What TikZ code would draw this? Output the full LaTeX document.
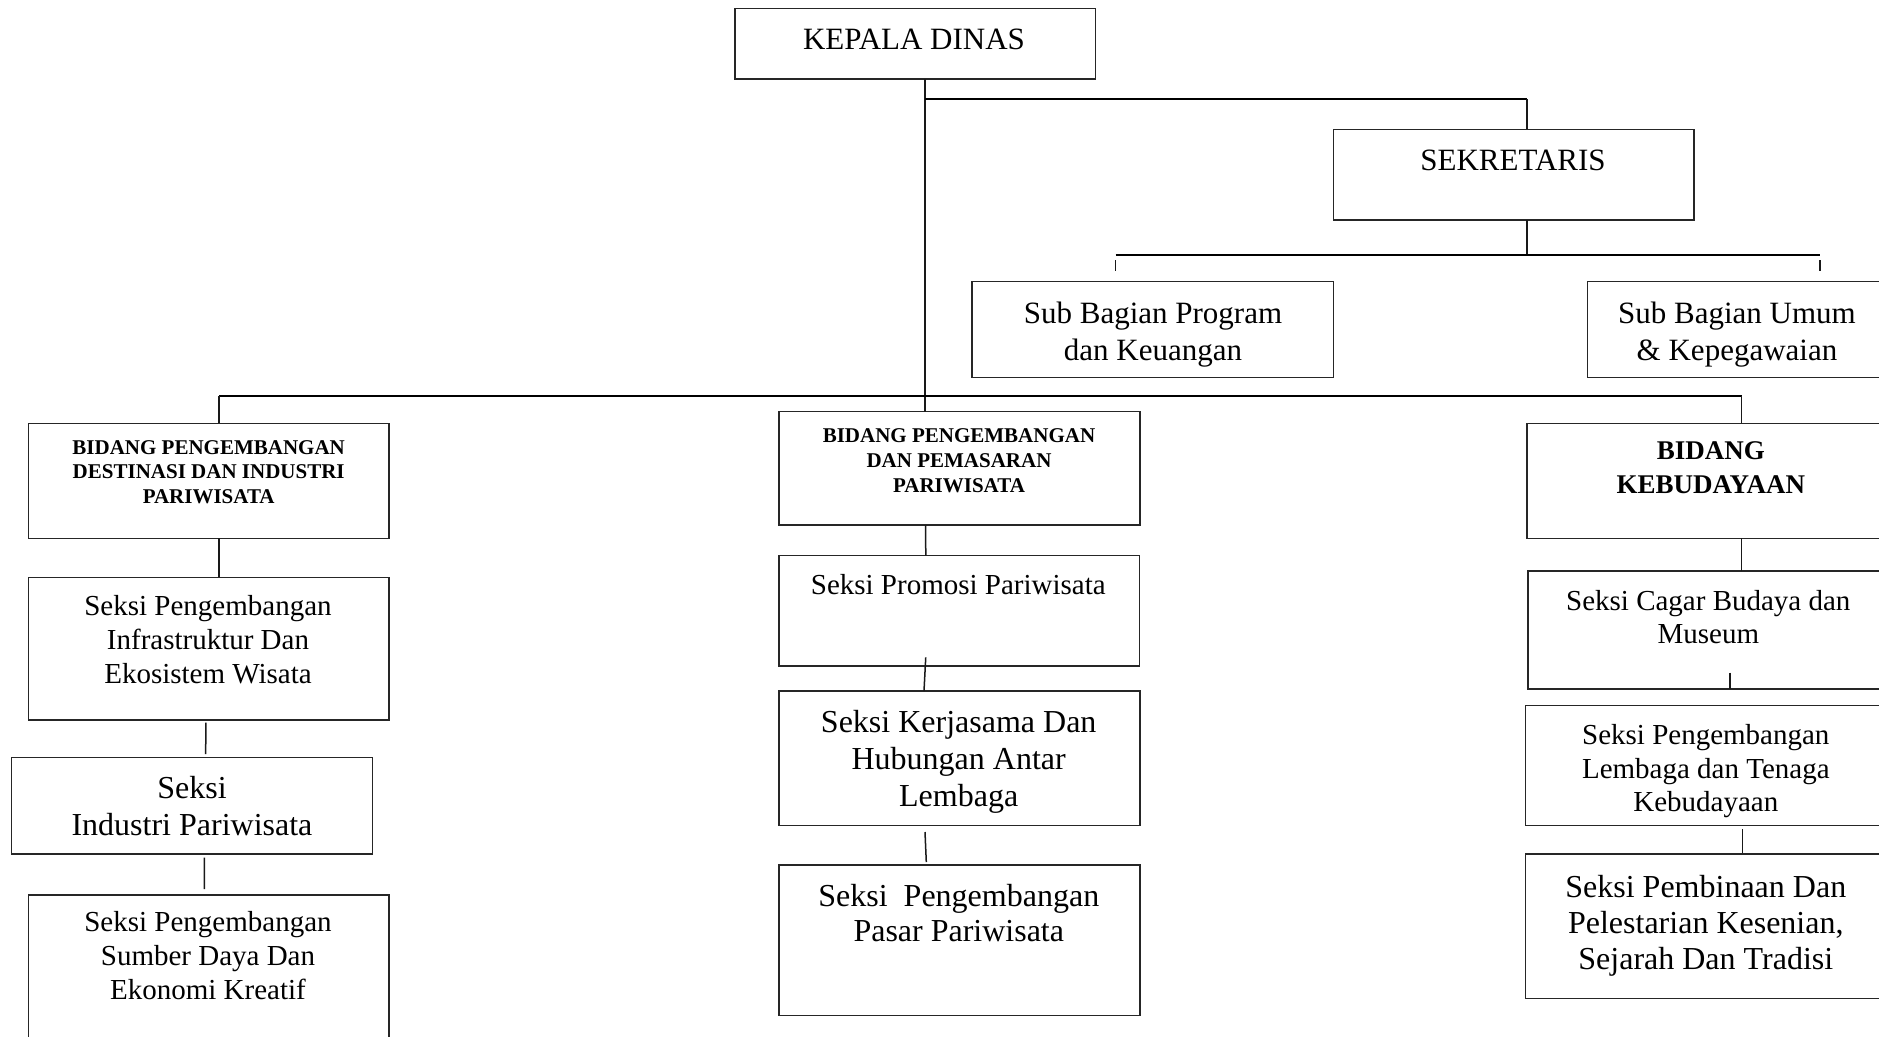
\documentclass[tikz,border=0pt]{standalone}
\usepackage{fontspec}
\setmainfont{Liberation Serif}
\usetikzlibrary{calc}
\tikzset{
  orgframe/.style={draw=black!85, line width=1.3pt, inner sep=0pt, outer sep=0pt, rectangle},
  orglabel/.style={inner sep=0pt, outer sep=0pt, align=center, anchor=north, text=black},
  conn/.style={draw=black!90, line width=1.5pt},
  bar/.style={draw=black, line width=2.4pt},
}
\newcommand\orgbox[5]{\node[orgframe, minimum width={(#4-#2)*1pt}, minimum height={(#5-#3)*1pt}] (#1) at ({(#2+#4)/2},{(#3+#5)/2}) {};}
\newcommand\orgtext[6]{\node[orglabel, font=\fontsize{#4}{#5}\selectfont] (#1) at (#2,{#3-0.75*#4}) {\rule{0pt}{0.75em}#6};}
\begin{document}
\begin{tikzpicture}[x=1pt,y=-1pt]
\fill[white] (0,0) rectangle (1879,1036);
\clip (0,0) rectangle (1879,1036);
% boxes
\orgbox{kepala}{735}{8.3}{1095.7}{79}
\orgbox{sek}{1333.5}{129.3}{1694}{220}
\orgbox{subprog}{972}{281.7}{1333.5}{377.7}
\orgbox{subumum}{1587.4}{281.7}{1887}{377.7}
\orgbox{bidA}{28.3}{423.3}{389}{538.3}
\orgbox{bidB}{779}{411.7}{1140}{525}
\orgbox{bidC}{1527}{423.3}{1894}{538.3}
\orgbox{infra}{28.3}{577.3}{389}{720}
\orgbox{indus}{11.7}{757.7}{372.7}{854}
\orgbox{sumber}{28.3}{895}{389}{1060}
\orgbox{promo}{779}{555.7}{1139.5}{666}
\orgbox{kerja}{779}{691}{1140}{825.7}
\orgbox{pasar}{779}{865}{1140}{1015.7}
\orgbox{cagar}{1528}{571}{1888}{689}
\orgbox{lembaga}{1525.7}{705.7}{1886}{825.7}
\orgbox{pembina}{1525.7}{854}{1886}{998.3}
% texts
\orgtext{kepalaT}{914}{49.3}{31}{35}{KEPALA DINAS}
\orgtext{sekT}{1513}{170}{31}{35}{SEKRETARIS}
\orgtext{subprogT}{1153}{323}{31}{37}{Sub Bagian Program\\dan Keuangan}
\orgtext{subumumT}{1737}{323}{31}{37}{Sub Bagian Umum\\\& Kepegawaian}
\orgtext{bidAT}{208.7}{454}{21}{24.7}{\bfseries BIDANG PENGEMBANGAN\\\bfseries DESTINASI DAN INDUSTRI\\\bfseries PARIWISATA}
\orgtext{bidBT}{959}{442.3}{21}{25.2}{\bfseries BIDANG PENGEMBANGAN\\\bfseries DAN PEMASARAN\\\bfseries PARIWISATA}
\orgtext{bidCT}{1710.8}{459.3}{27}{34}{\bfseries BIDANG\\\bfseries KEBUDAYAAN}
\orgtext{infraT}{208}{615}{29}{34}{Seksi Pengembangan\\Infrastruktur Dan\\Ekosistem Wisata}
\orgtext{indusT}{192}{798.3}{32}{36.7}{Seksi\\Industri Pariwisata}
\orgtext{sumberT}{208}{931.7}{29}{34}{Seksi Pengembangan\\Sumber Daya Dan\\Ekonomi Kreatif}
\orgtext{promoT}{958.3}{594}{29}{34}{Seksi Promosi Pariwisata}
\orgtext{kerjaT}{958.7}{732.5}{32}{37}{Seksi Kerjasama Dan\\Hubungan Antar\\Lembaga}
\orgtext{pasarT}{958.8}{906.7}{32}{35}{Seksi\ \ Pengembangan\\Pasar Pariwisata}
\orgtext{cagarT}{1708.3}{610}{29}{33}{Seksi Cagar Budaya dan\\Museum}
\orgtext{lembagaT}{1705.8}{744.5}{29}{33.7}{Seksi Pengembangan\\Lembaga dan Tenaga\\Kebudayaan}
\orgtext{pembinaT}{1705.8}{897.5}{32}{36}{Seksi Pembinaan Dan\\Pelestarian Kesenian,\\Sejarah Dan Tradisi}
% bus coordinates
\coordinate (busK) at (925,99);
\coordinate (sekBus) at (1526.8,99);
\coordinate (subBus) at (1526.8,255);
\coordinate (tickL) at (1115.5,255);
\coordinate (tickR) at (1820,255);
\coordinate (bidBus) at (925,395.7);
\coordinate (bidL) at (219,395.7);
\coordinate (bidR) at (1741.7,395.7);
% connectors
\draw[conn] (kepala.south -| busK) -- (bidB.north -| busK);
\draw[bar] (busK) -- (sekBus);
\draw[conn] (sekBus) -- (sek.north -| sekBus);
\draw[conn] (sek.south -| subBus) -- (subBus);
\draw[bar] (tickL) -- (tickR);
\draw[conn] ($(tickL)+(0,5)$) -- ($(subprog.north -| tickL)+(0,-11)$);
\draw[conn] ($(tickR)+(0,5)$) -- ($(subumum.north -| tickR)+(0,-11)$);
\draw[bar] (bidL) -- (bidR);
\draw[conn] (bidL) -- (bidA.north -| bidL);
\draw[conn] (bidR) -- (bidC.north -| bidR);
% left column
\draw[conn] (bidA.south -| bidL) -- (infra.north -| bidL);
\draw[conn] ($(infra.south)+(-2.8,2.7)$) -- ($(indus.north)+(13.5,-3.7)$);
\draw[conn] ($(indus.south)+(12.1,3.7)$) -- ($(sumber.north)+(-4.3,-6)$);
% middle column
\draw[conn] ($(bidB.south)+(-33.8,0)$) -- ($(promo.north)+(-33.5,0)$);
\draw[conn] ($(promo.south)+(-33.5,-8.7)$) -- ($(kerja.north)+(-35.5,0)$);
\draw[conn] ($(kerja.south)+(-34.5,6.3)$) -- ($(pasar.north)+(-33.2,-3)$);
% right column
\draw[conn] (bidC.south -| bidR) -- (cagar.north -| bidR);
\draw[conn] ($(cagar.south)+(22,-16.3)$) -- ($(cagar.south)+(22,0)$);
\draw[conn] ($(lembaga.south)+(36.5,3.6)$) -- ($(pembina.north)+(36.5,-0.7)$);
\end{tikzpicture}
\end{document}
